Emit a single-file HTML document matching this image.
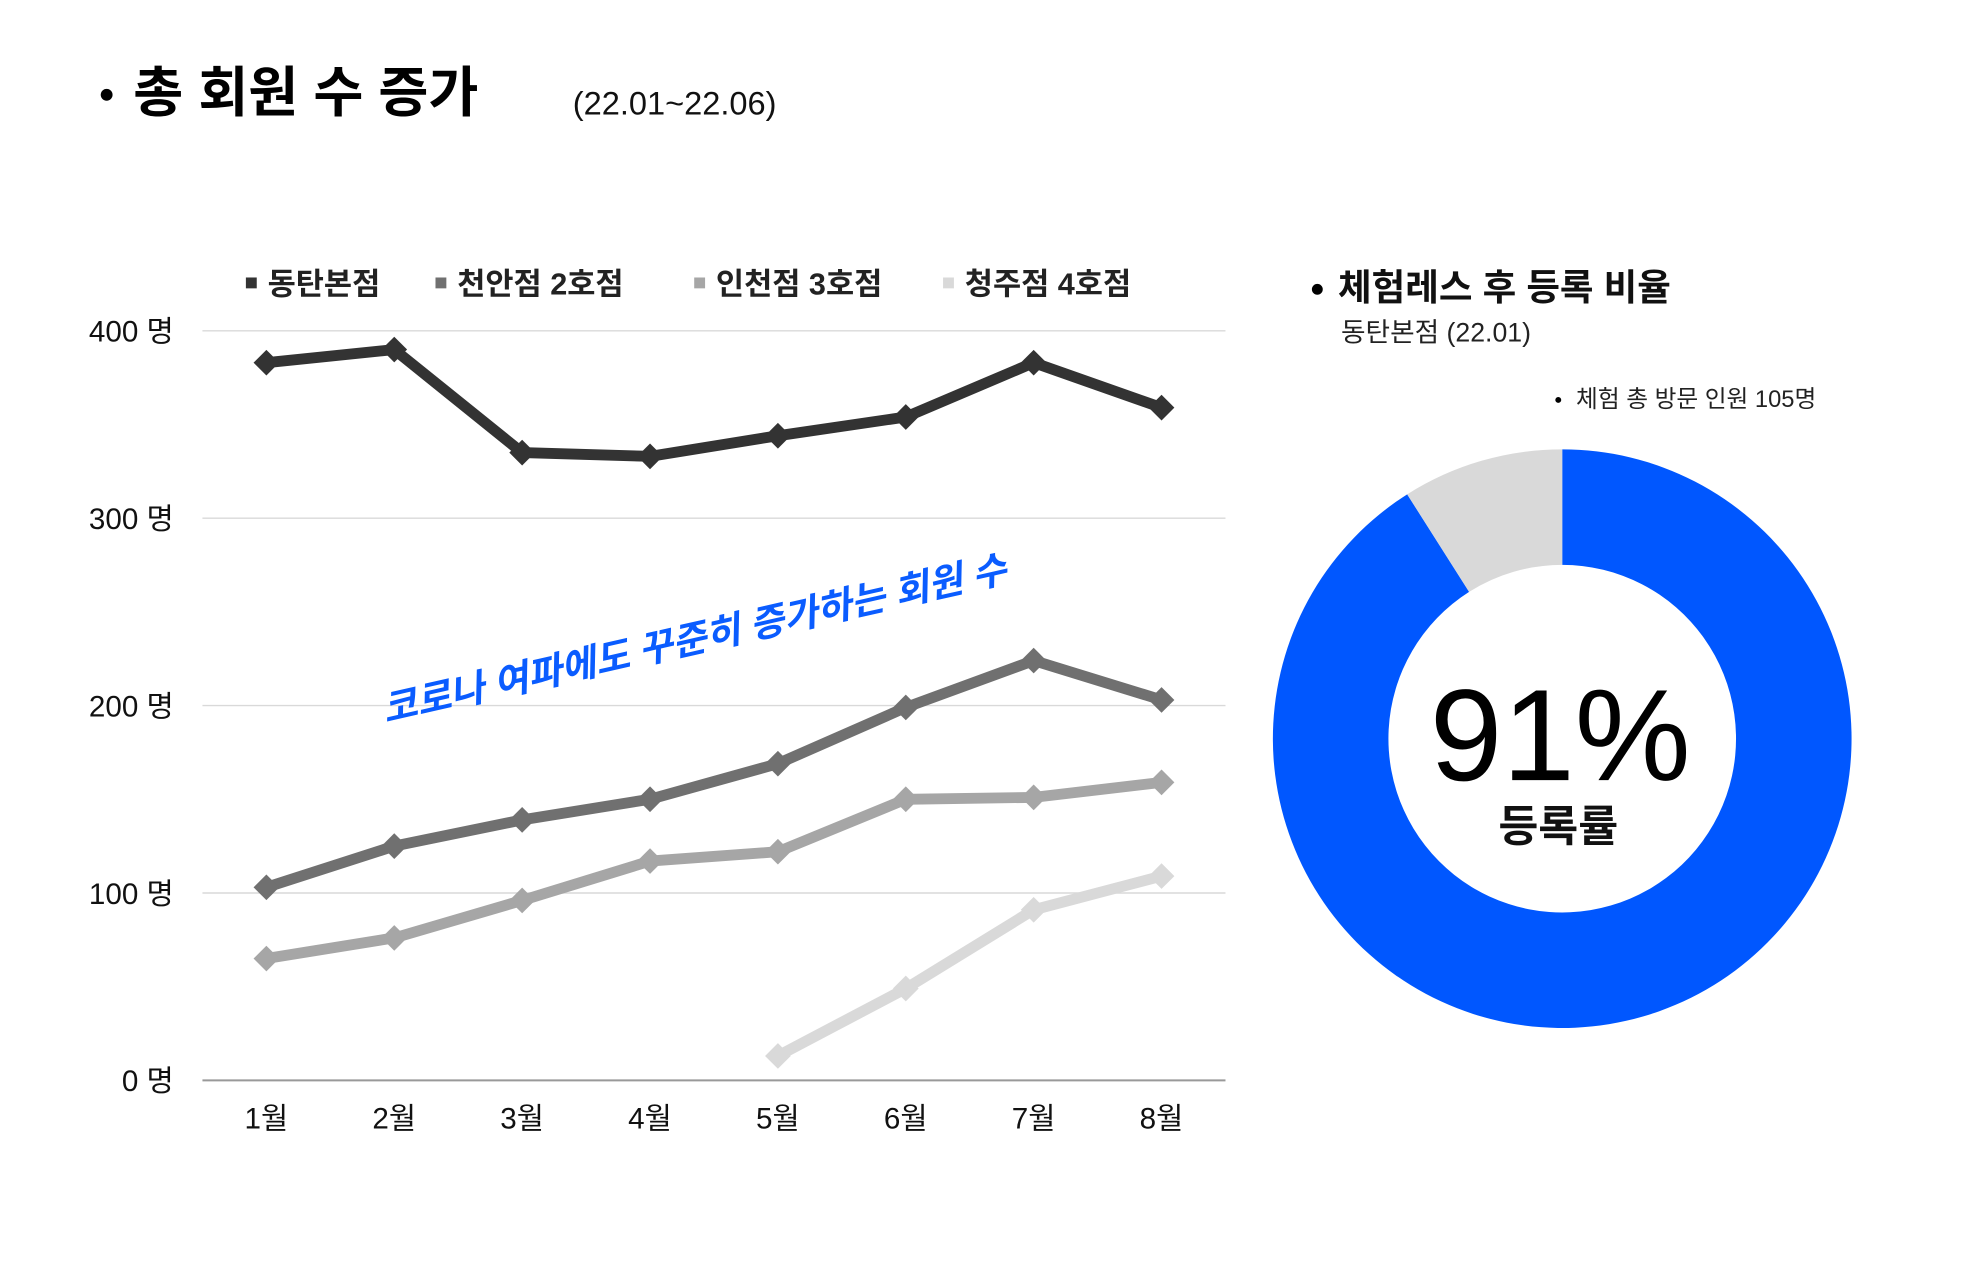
<!DOCTYPE html>
<html><head><meta charset="utf-8">
<style>
body{margin:0;width:1980px;height:1280px;background:#fff;overflow:hidden;font-family:"Liberation Sans","Noto Sans CJK KR",sans-serif;}
svg text{font-family:"Liberation Sans","Noto Sans CJK KR",sans-serif;}
</style></head>
<body>
<svg id="chart" width="1980" height="1280" viewBox="0 0 1980 1280">
<g transform="scale(0.9875)">
<g>
<circle cx="108" cy="96" r="6" fill="#000"/>
<text x="135" y="113" font-size="55" font-weight="bold" fill="#000">총 회원 수 증가</text>
<text x="580" y="116" font-size="33" fill="#111">(22.01~22.06)</text>
</g>
<g id="legend"></g>
<g id="grid"></g>
<g id="series"></g>
<text x="0" y="0" font-size="38" font-weight="bold" font-style="italic" fill="#0a5cff" text-anchor="middle" transform="translate(706,660) rotate(-12.8)">코로나 여파에도 꾸준히 증가하는 회원 수</text>
<g>
<circle cx="1334" cy="293" r="5.5" fill="#000"/>
<text x="1355" y="304" font-size="37" font-weight="bold" fill="#111">체험레스 후 등록 비율</text>
<text x="1358" y="346" font-size="27" fill="#222">동탄본점 (22.01)</text>
<circle cx="1578" cy="405" r="3" fill="#000"/>
<text x="1596" y="412" font-size="24" fill="#222">체험 총 방문 인원 105명</text>
</g>
<g id="donut"></g>
<text x="1580" y="790" font-size="132" fill="#000" text-anchor="middle">91%</text>
<text x="1578" y="852" font-size="44" font-weight="bold" fill="#111" text-anchor="middle">등록률</text>
</g>
</svg>
<script>
const categories=["1월","2월","3월","4월","5월","6월","7월","8월"];
const seriesNames=["동탄본점","천안점 2호점","인천점 3호점","청주점 4호점"];
const s1=[383,390,335,333,344,354,383,359];
const s2=[103,125,139,150,169,199,224,203];
const s3=[65,76,96,117,122,150,151,159];
const s4=[null,null,null,null,13,49,91,109];
const yTicks=[0,100,200,300,400];
const donutValues=[91,9];
const NS="http://www.w3.org/2000/svg";
function mk(t,a,p){const e=document.createElementNS(NS,t);for(const k in a)e.setAttribute(k,a[k]);p.appendChild(e);return e;}
const L=205,R=1241,T=335,B=1094,YMAX=400;
const bw=(R-L)/categories.length;
const xs=i=>L+bw*(i+0.5);
const ys=v=>B-(v/YMAX)*(B-T);
const colors=["#333333","#707070","#a6a6a6","#d9d9d9"];
const grid=document.getElementById('grid');
yTicks.forEach(v=>{
 const l=mk('line',{x1:L,x2:R,y1:ys(v),y2:ys(v),stroke:v===0?'#999':'#d9d9d9','stroke-width':v===0?2:1.5},grid);
 
 
 const t=mk('text',{x:176,y:ys(v)+11,'font-size':30,'text-anchor':'end',fill:'#111'},grid);
 t.textContent=v+' 명';
 
 
});
categories.forEach((c,i)=>{
 const t=mk('text',{x:xs(i),y:1143,'font-size':30,'text-anchor':'middle',fill:'#111'},grid);
 t.textContent=c;
 
 
});
const sg=document.getElementById('series');
[s1,s2,s3,s4].forEach((d,k)=>{
 const g=mk('g',{},sg);
 
 
 let pts=[];d.forEach((v,i)=>{if(v!==null)pts.push([xs(i),ys(v)]);});
 const pl=mk('polyline',{points:pts.map(p=>p.join(',')).join(' '),fill:'none',stroke:colors[k],'stroke-width':11,'stroke-linejoin':'round'},g);
 
 
 pts.forEach(p=>{
  const m=mk('polygon',{points:`${p[0]},${p[1]-13} ${p[0]+13},${p[1]} ${p[0]},${p[1]+13} ${p[0]-13},${p[1]}`,fill:colors[k]},g);
  
  
 });
});
const lg=document.getElementById('legend');
const lx=[249,441,703,955];
seriesNames.forEach((n,k)=>{
 const r=mk('rect',{x:lx[k],y:281,width:11,height:11,fill:colors[k]},lg);
 
 
 const t=mk('text',{x:lx[k]+22,y:298,'font-size':31,'font-weight':'bold',fill:'#222'},lg);
 t.textContent=n;
 
 
});
const dg=document.getElementById('donut');
const cx=1582,cy=748,ro=293,ri=176;
const tot=donutValues.reduce((a,b)=>a+b,0);
let a0=0;const dc=['#0057ff','#d9d9d9'];
donutValues.forEach((v,k)=>{
 const a1=a0+v/tot*2*Math.PI;
 const P=(r,a)=>[cx+r*Math.sin(a),cy-r*Math.cos(a)];
 const lf=(a1-a0)>Math.PI?1:0;
 const [x1,y1]=P(ro,a0),[x2,y2]=P(ro,a1),[x3,y3]=P(ri,a1),[x4,y4]=P(ri,a0);
 const p=mk('path',{d:`M${x1},${y1} A${ro},${ro} 0 ${lf} 1 ${x2},${y2} L${x3},${y3} A${ri},${ri} 0 ${lf} 0 ${x4},${y4} Z`,fill:dc[k]},dg);
 
 
 a0=a1;
});
</script>
</body></html>
